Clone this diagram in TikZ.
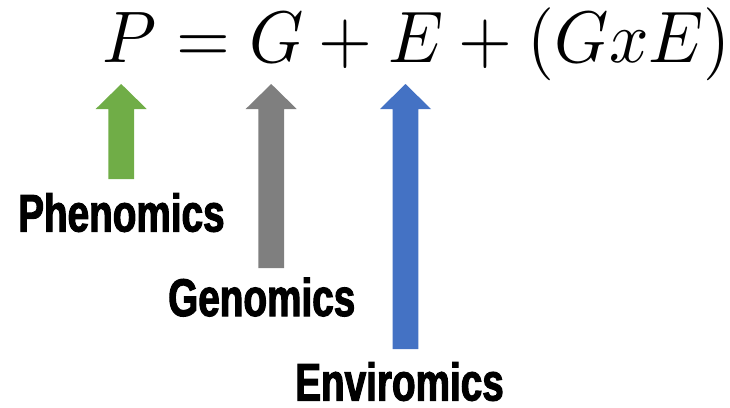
\documentclass[tikz,border=0pt]{standalone}
\usepackage{fontspec}
\newfontfamily\labfont[FakeStretch=0.73,FakeBold=2]{Liberation Sans Bold}
\definecolor{pgreen}{HTML}{70AD47}
\definecolor{pgray}{HTML}{7F7F7F}
\definecolor{pblue}{HTML}{4472C4}
\begin{document}
\begin{tikzpicture}[x=1pt,y=-1pt,
  lab/.style={inner sep=0pt,anchor=base west,font=\labfont\fontsize{53}{60}\selectfont},
  eqn/.style={inner sep=0pt,anchor=base west}]
\useasboundingbox (0,0) rectangle (730,407);
\node[eqn] (eq) at (102.6,62) {\scalebox{6.92}[7.3]{$P = G + E + (GxE)$}};
% block arrows
\foreach \name/\cx/\bot/\col in {ag/121.2/179/pgreen, ar/271.2/268/pgray, ab/405.5/349/pblue}{
  \coordinate (\name tip) at (\cx,84);
  \fill[\col] (\name tip) -- (\cx+25.5,109) -- (\cx+12.9,109) -- (\cx+12.9,\bot)
     -- (\cx-12.9,\bot) -- (\cx-12.9,109) -- (\cx-25.5,109) -- cycle;
}
\node[lab] (phen) at (18,231.5) {Phenomics};
\node[lab] (geno) at (168,316) {Genomics};
\node[lab] (envi) at (295,400.5) {Enviromics};
\end{tikzpicture}
\end{document}
